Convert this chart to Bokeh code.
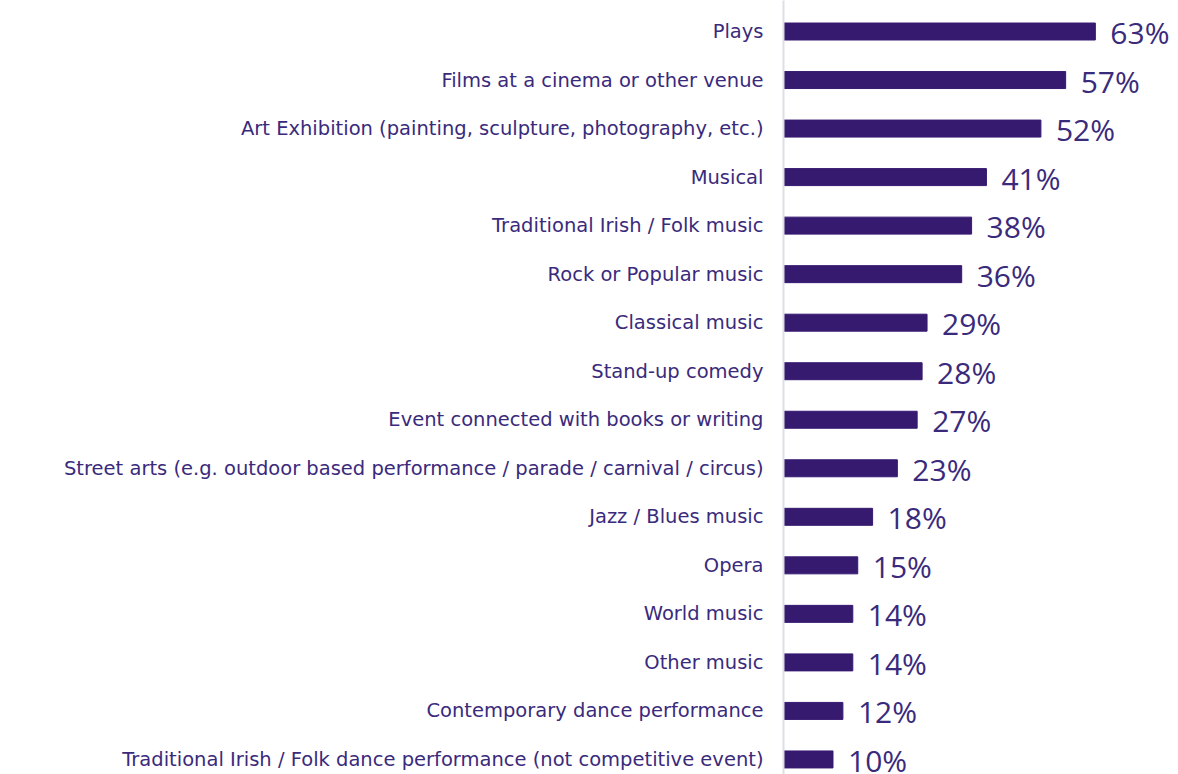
from bokeh.plotting import figure
from bokeh.models import ColumnDataSource, Range1d, FixedTicker
from bokeh.core.properties import value
from bokeh.embed import file_html
from bokeh.resources import INLINE

categories = [
    "Plays",
    "Films at a cinema or other venue",
    "Art Exhibition (painting, sculpture, photography, etc.)",
    "Musical",
    "Traditional Irish / Folk music",
    "Rock or Popular music",
    "Classical music",
    "Stand-up comedy",
    "Event connected with books or writing",
    "Street arts (e.g. outdoor based performance / parade / carnival / circus)",
    "Jazz / Blues music",
    "Opera",
    "World music",
    "Other music",
    "Contemporary dance performance",
    "Traditional Irish / Folk dance performance (not competitive event)",
]
values = [63, 57, 52, 41, 38, 36, 29, 28, 27, 23, 18, 15, 14, 14, 12, 10]
value_labels = [f"{v}%" for v in values]

BAR = "#361a70"
TEXT = "#3a2a7c"

idx = list(range(len(categories)))
src = ColumnDataSource(dict(y=idx, v=values, lab=value_labels))

p = figure(width=1178, height=774, output_backend="svg", toolbar_location=None,
           x_axis_location=None,
           x_range=Range1d(0, 79.8), y_range=Range1d(15.31, -0.639),
           min_border_left=783, min_border_right=0, min_border_top=0, min_border_bottom=0)
p.outline_line_color = None
p.grid.visible = False

p.hbar(y="y", right="v", left=0, height=0.35, color=BAR, source=src)
p.text(x="v", y="y", text="lab", source=src, x_offset=15, y_offset=1,
       text_font=value("Open Sans"), text_font_size="30px", text_color=TEXT,
       text_baseline="middle", text_align="left")

ax = p.yaxis[0]
ax.ticker = FixedTicker(ticks=idx)
ax.major_label_overrides = {i: c for i, c in enumerate(categories)}
ax.major_label_text_font = "DejaVu Sans"
ax.major_label_text_font_size = "19.5px"
ax.major_label_text_color = TEXT
ax.major_tick_line_color = None
ax.minor_tick_line_color = None
ax.major_tick_out = 0
ax.major_tick_in = 0
ax.major_label_standoff = 20
ax.axis_line_color = "#dcdfe8"
ax.axis_line_width = 2

open("out.html", "w").write(file_html(p, INLINE))
